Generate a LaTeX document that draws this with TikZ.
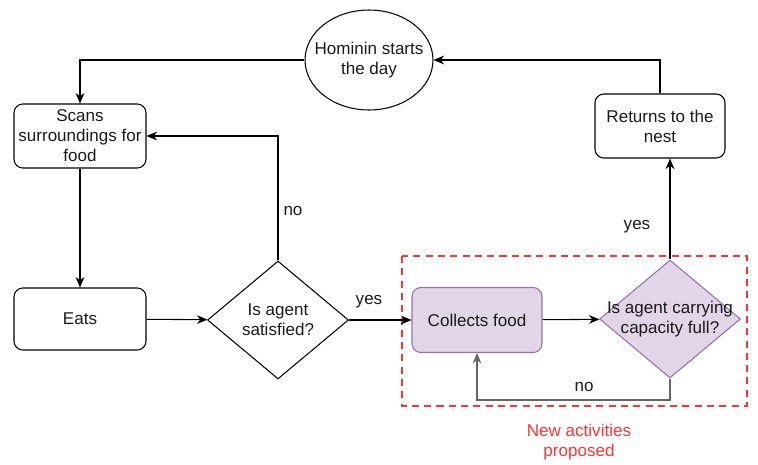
\documentclass[tikz,border=0pt]{standalone}
\usepackage{fontspec}
\setmainfont{Liberation Sans}
\usetikzlibrary{shapes.geometric,arrows.meta}

\definecolor{lilac}{HTML}{E1D5E7}
\definecolor{lilacline}{HTML}{9673A6}
\definecolor{dashred}{HTML}{FF3333}
\definecolor{inkgray}{HTML}{1A1A1A}

\tikzset{
  txt/.style={font=\fontsize{9.7}{11.4}\selectfont, text=inkgray, align=center},
  process/.style={txt, draw, rounded corners=5pt, line width=0.6pt, inner sep=0pt},
  decision/.style={draw, diamond, line width=0.6pt, inner sep=0pt,
    minimum width=2.82cm, minimum height=2.36cm},
  flow/.style={line width=0.6pt, -{Stealth[length=6pt,width=5pt]}},
}

\begin{document}
\begin{tikzpicture}[x=0.02cm, y=-0.02cm]
        \useasboundingbox (0, 0) rectangle (758, 464);

        % Draw the start of the day
        \node[draw, ellipse, line width=0.6pt, inner sep=0pt,
          minimum width=2.56cm, minimum height=2.0cm] (start) at (369, 60) {};
        \node[txt] (startq) at (start) {Hominin starts\\the day};

        % Draw the left column
        \node[process, minimum width=2.64cm, minimum height=1.28cm] (scan) at (80, 136)
          {Scans\\surroundings for\\food};
        \node[process, minimum width=2.64cm, minimum height=1.24cm] (eats) at (80, 319) {Eats};

        % Draw the first decision
        \node[decision] (sat) at (278, 320) {};
        \node[txt] (satq) at (sat) {Is agent\\satisfied?};

        % Draw the proposed activities
        \node[process, fill=lilac, draw=lilacline, minimum width=2.6cm, minimum height=1.3cm]
          (collect) at (477, 320) {Collects food};
        \node[decision, fill=lilac, draw=lilacline] (full) at (670, 319) {};
        \node[txt] (fullq) at (full) {Is agent carrying\\capacity full?};

        % Draw the way home
        \node[process, minimum width=2.6cm, minimum height=1.28cm] (nest) at (660, 126)
          {Returns to the\\nest};

        % Draw the dashed frame
        \draw[dashred, line width=1pt, dash pattern=on 4pt off 3pt] (402, 256) rectangle (747, 406);
        \node[txt, text=dashred] (newact) at (579, 442) {New activities\\proposed};

        % Add connectors
        \draw[flow] (start.west) -| (scan.north);
        \draw[flow] (scan) -- (eats);
        \draw[flow] (eats) -- (sat);
        \draw[flow] (sat.north) |- (scan.east);
        \draw[flow] (sat.east) -- (collect.west);
        \draw[flow] (collect) -- (full);
        \draw[flow] (full.north) -- (full.north |- nest.south);
        \draw[flow] (nest.north) |- (start.east);
        \coordinate (back) at (670, 400);
        \draw[flow, draw=black!60] (full.south) -- (back) -| (collect.south);

        % Add labels
        \node[txt] (no1) at (293, 211) {no};
        \node[txt] (yes1) at (369, 302) {yes};
        \node[txt] (yes2) at (637, 227) {yes};
        \node[txt] (no2) at (584, 387) {no};
    \end{tikzpicture}
\end{document}
